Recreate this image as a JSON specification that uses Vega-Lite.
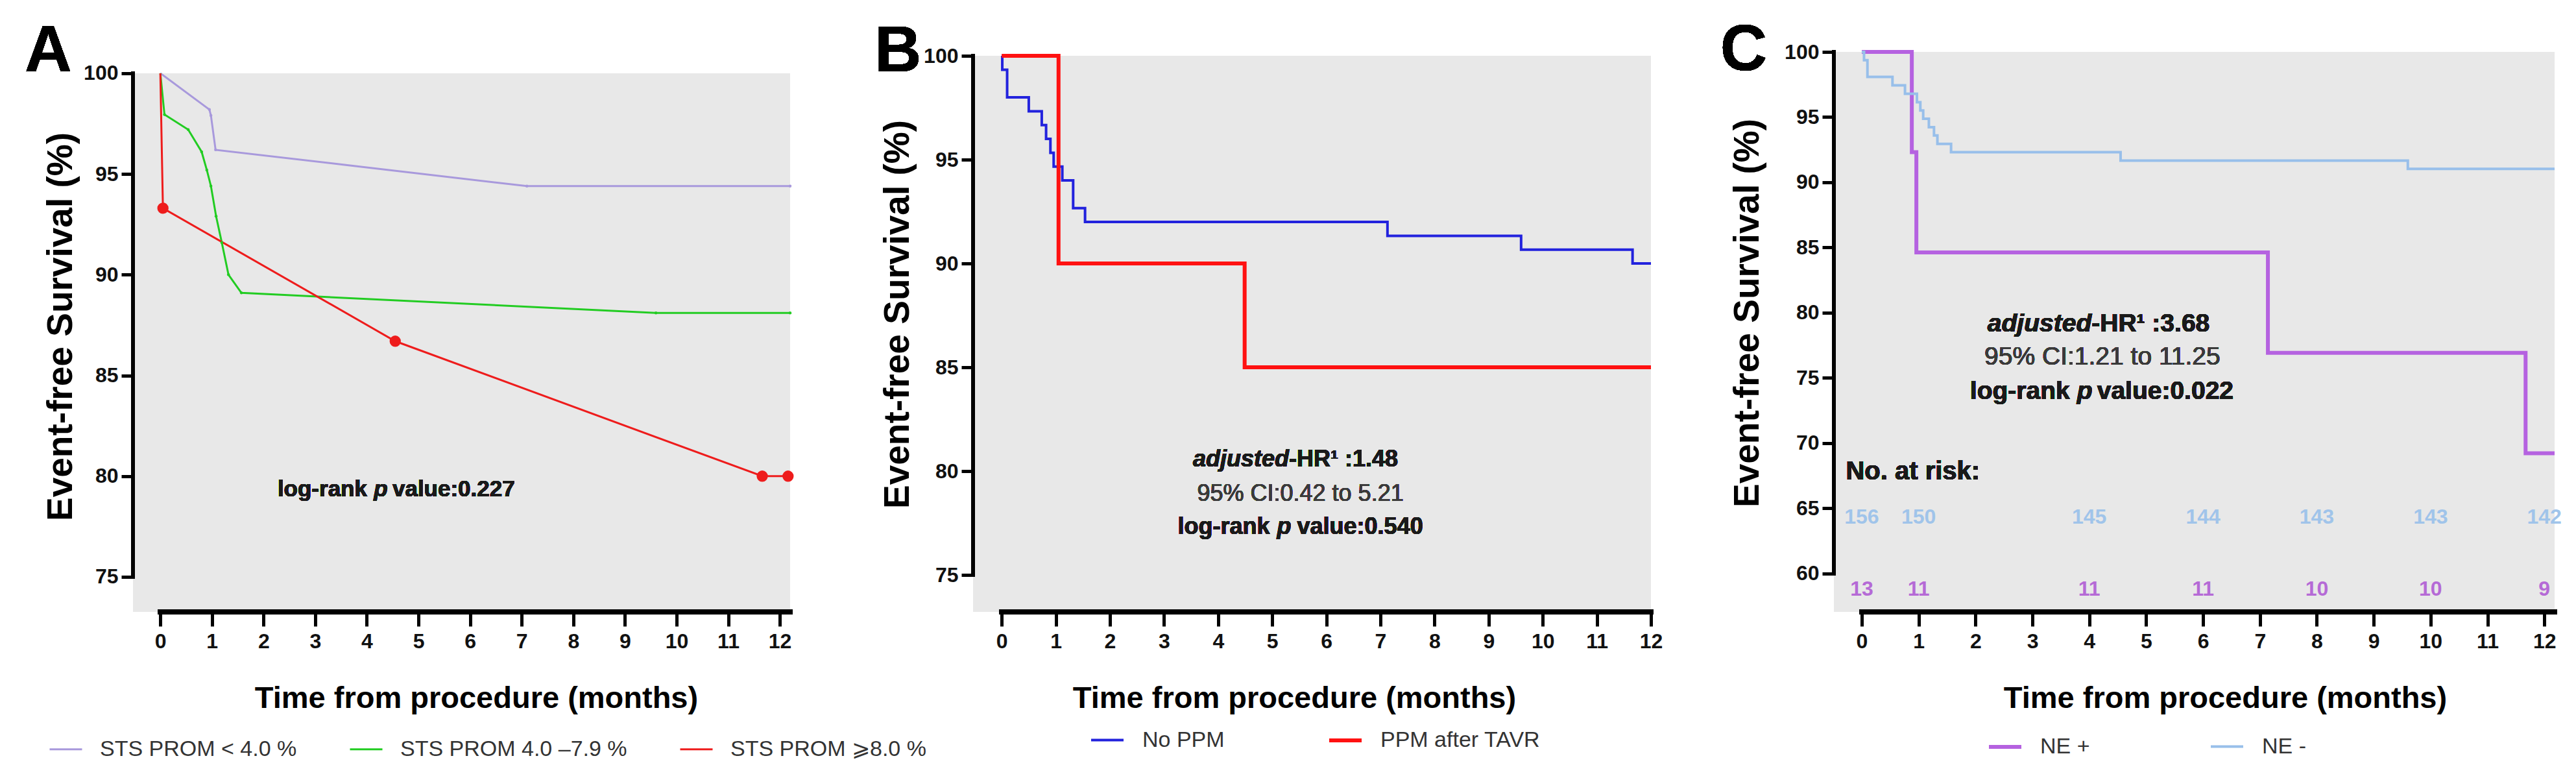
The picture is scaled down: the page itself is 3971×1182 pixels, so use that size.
{
  "$schema": "https://vega.github.io/schema/vega-lite/v6.json",
  "background": "white",
  "padding": {"left": 38, "top": 28, "right": 5, "bottom": 5},
  "spacing": 282,
  "bounds": "flush",
  "config": {
    "view": {"stroke": null, "fill": null},
    "axis": {"domain": false, "grid": false, "tickColor": "#000", "tickWidth": 5, "labelFont": "Liberation Sans, Arial, sans-serif", "labelFontWeight": "bold", "labelColor": "#111", "titleFontWeight": "bold", "titleColor": "#000", "labelOverlap": false, "labelFlush": false, "titleBaseline": "alphabetic", "format": "d"},
    "axisX": {"tickSize": 22, "labelFontSize": 32, "labelPadding": 8, "titleFont": "Liberation Sans, Arial, sans-serif", "titleFontSize": 47, "titleY": 147},
    "axisY": {"tickSize": 18, "labelFontSize": 32, "labelPadding": 5, "titleFont": "Liberation Sans, Arial, sans-serif", "titleFontSize": 55},
    "legend": {"orient": "none", "direction": "horizontal", "symbolType": "stroke", "symbolSize": 2500, "labelFont": "Liberation Sans, Arial, sans-serif", "labelFontSize": 34, "labelColor": "#333", "labelOffset": 26, "labelLimit": 1000},
    "text": {"font": "Liberation Sans, Arial, sans-serif"}
  },
  "hconcat": [
    {
      "width": 1013,
      "height": 863,
      "data": {"values": [
        {"g": "STS PROM < 4.0 %", "t": 0, "s": 100},
        {"g": "STS PROM < 4.0 %", "t": 0.95, "s": 98.2},
        {"g": "STS PROM < 4.0 %", "t": 0.98, "s": 97.9},
        {"g": "STS PROM < 4.0 %", "t": 1.07, "s": 96.2},
        {"g": "STS PROM < 4.0 %", "t": 7.1, "s": 94.4},
        {"g": "STS PROM < 4.0 %", "t": 12.2, "s": 94.4},
        {"g": "STS PROM 4.0 –7.9 %", "t": 0, "s": 100},
        {"g": "STS PROM 4.0 –7.9 %", "t": 0.08, "s": 97.95},
        {"g": "STS PROM 4.0 –7.9 %", "t": 0.54, "s": 97.2},
        {"g": "STS PROM 4.0 –7.9 %", "t": 0.8, "s": 96.1},
        {"g": "STS PROM 4.0 –7.9 %", "t": 0.9, "s": 95.2},
        {"g": "STS PROM 4.0 –7.9 %", "t": 0.98, "s": 94.4},
        {"g": "STS PROM 4.0 –7.9 %", "t": 1.08, "s": 92.9},
        {"g": "STS PROM 4.0 –7.9 %", "t": 1.19, "s": 91.6},
        {"g": "STS PROM 4.0 –7.9 %", "t": 1.32, "s": 90.0},
        {"g": "STS PROM 4.0 –7.9 %", "t": 1.57, "s": 89.1},
        {"g": "STS PROM 4.0 –7.9 %", "t": 9.6, "s": 88.1},
        {"g": "STS PROM 4.0 –7.9 %", "t": 12.2, "s": 88.1},
        {"g": "STS PROM ⩾8.0 %", "t": 0, "s": 100},
        {"g": "STS PROM ⩾8.0 %", "t": 0.05, "s": 93.3},
        {"g": "STS PROM ⩾8.0 %", "t": 4.55, "s": 86.7},
        {"g": "STS PROM ⩾8.0 %", "t": 11.66, "s": 80.0},
        {"g": "STS PROM ⩾8.0 %", "t": 12.16, "s": 80.0}
      ]},
      "layer": [
        {"mark": {"type": "rect", "color": "#e8e8e8"}, "encoding": {"x": {"datum": -0.53}, "x2": {"datum": 12.2}, "y": {"datum": 73.26}, "y2": {"datum": 100}}},
        {"mark": {"type": "rule", "color": "#000", "strokeWidth": 6, "strokeCap": "square"}, "encoding": {"x": {"datum": -0.53}, "y": {"datum": 75}, "y2": {"datum": 100}}},
        {"mark": {"type": "rule", "color": "#000", "strokeWidth": 7, "strokeCap": "square"}, "encoding": {"y": {"datum": 73.26}, "x": {"datum": 0}, "x2": {"datum": 12.2}}},
        {
          "mark": {"type": "line", "interpolate": "linear"},
          "encoding": {
            "x": {"field": "t", "type": "quantitative", "scale": {"domain": [-0.53, 12.2], "nice": false, "zero": false}, "axis": {"values": [0,1,2,3,4,5,6,7,8,9,10,11,12], "title": "Time from procedure (months)", "titleX": 529}},
            "y": {"field": "s", "type": "quantitative", "scale": {"domain": [73.26, 101.06], "nice": false, "zero": false}, "axis": {"values": [75,80,85,90,95,100], "title": "Event-free Survival (%)", "titleX": -95, "titleY": 423}},
            "color": {"field": "g", "type": "nominal", "scale": {"domain": ["STS PROM < 4.0 %", "STS PROM 4.0 –7.9 %", "STS PROM ⩾8.0 %"], "range": ["#a899dc", "#22cc22", "#ee1c1c"]}, "legend": {"title": null, "legendX": -130, "legendY": 1048, "columns": 3, "columnPadding": 75}},
            "strokeWidth": {"field": "g", "type": "nominal", "scale": {"domain": ["STS PROM < 4.0 %", "STS PROM 4.0 –7.9 %", "STS PROM ⩾8.0 %"], "range": [3, 3, 4]}, "legend": {"title": null, "legendX": -130, "legendY": 1048, "columns": 3, "columnPadding": 75}}
          }
        },
        {"transform": [{"filter": "datum.g === 'STS PROM < 4.0 %' && datum.t > 0"}], "mark": {"type": "point", "filled": true, "size": 20, "color": "#a899dc", "opacity": 1}, "encoding": {"x": {"field": "t", "type": "quantitative"}, "y": {"field": "s", "type": "quantitative"}}},
        {"transform": [{"filter": "datum.g === 'STS PROM 4.0 –7.9 %' && datum.t > 0"}], "mark": {"type": "point", "filled": true, "size": 20, "color": "#22cc22", "opacity": 1}, "encoding": {"x": {"field": "t", "type": "quantitative"}, "y": {"field": "s", "type": "quantitative"}}},
        {"transform": [{"filter": "datum.g === 'STS PROM ⩾8.0 %' && datum.t > 0"}], "mark": {"type": "point", "filled": true, "size": 300, "color": "#ee1c1c", "opacity": 1}, "encoding": {"x": {"field": "t", "type": "quantitative"}, "y": {"field": "s", "type": "quantitative"}}},
        {"mark": {"type": "text", "text": "A", "align": "left", "baseline": "alphabetic", "fontWeight": "bold", "fontSize": 100, "color": "#000"}, "encoding": {"x": {"datum": -2.626}, "y": {"datum": 100.09}}},
        {"mark": {"type": "text", "text": "log-rank", "align": "right", "baseline": "middle", "dx": -21, "fontWeight": "bold", "fontSize": 35, "color": "#1a1a1a"}, "encoding": {"x": {"datum": 4.27}, "y": {"datum": 79.35}}},
        {"mark": {"type": "text", "text": "p", "align": "center", "baseline": "middle", "fontWeight": "bold", "fontStyle": "italic", "fontSize": 35, "color": "#1a1a1a"}, "encoding": {"x": {"datum": 4.27}, "y": {"datum": 79.35}}},
        {"mark": {"type": "text", "text": "value:0.227", "align": "left", "baseline": "middle", "dx": 18, "fontWeight": "bold", "fontSize": 35, "color": "#1a1a1a"}, "encoding": {"x": {"datum": 4.27}, "y": {"datum": 79.35}}}
      ]
    },
    {
      "width": 1045,
      "height": 863,
      "data": {"values": [
        {"g": "No PPM", "t": 0, "s": 100},
        {"g": "No PPM", "t": 0.01, "s": 99.33},
        {"g": "No PPM", "t": 0.1, "s": 98.0},
        {"g": "No PPM", "t": 0.5, "s": 97.33},
        {"g": "No PPM", "t": 0.74, "s": 96.67},
        {"g": "No PPM", "t": 0.82, "s": 96.0},
        {"g": "No PPM", "t": 0.9, "s": 95.33},
        {"g": "No PPM", "t": 0.96, "s": 94.67},
        {"g": "No PPM", "t": 1.12, "s": 94.0},
        {"g": "No PPM", "t": 1.32, "s": 92.67},
        {"g": "No PPM", "t": 1.54, "s": 92.0},
        {"g": "No PPM", "t": 7.13, "s": 91.33},
        {"g": "No PPM", "t": 9.6, "s": 90.67},
        {"g": "No PPM", "t": 11.66, "s": 90.0},
        {"g": "No PPM", "t": 12.0, "s": 90.0},
        {"g": "PPM after TAVR", "t": 0, "s": 100},
        {"g": "PPM after TAVR", "t": 1.05, "s": 90},
        {"g": "PPM after TAVR", "t": 4.49, "s": 85},
        {"g": "PPM after TAVR", "t": 12.0, "s": 85}
      ]},
      "layer": [
        {"mark": {"type": "rect", "color": "#e8e8e8"}, "encoding": {"x": {"datum": -0.53}, "x2": {"datum": 12.0}, "y": {"datum": 73.22}, "y2": {"datum": 100}}},
        {"mark": {"type": "rule", "color": "#000", "strokeWidth": 6, "strokeCap": "square"}, "encoding": {"x": {"datum": -0.53}, "y": {"datum": 75}, "y2": {"datum": 100}}},
        {"mark": {"type": "rule", "color": "#000", "strokeWidth": 7, "strokeCap": "square"}, "encoding": {"y": {"datum": 73.22}, "x": {"datum": 0}, "x2": {"datum": 12.0}}},
        {
          "mark": {"type": "line", "interpolate": "step-after"},
          "encoding": {
            "x": {"field": "t", "type": "quantitative", "scale": {"domain": [-0.53, 12.0], "nice": false, "zero": false}, "axis": {"values": [0,1,2,3,4,5,6,7,8,9,10,11,12], "title": "Time from procedure (months)", "titleX": 495}},
            "y": {"field": "s", "type": "quantitative", "scale": {"domain": [73.22, 100.19], "nice": false, "zero": false}, "axis": {"values": [75,80,85,90,95,100], "title": "Event-free Survival (%)", "titleX": -100, "titleY": 404}},
            "color": {"field": "g", "type": "nominal", "scale": {"domain": ["No PPM", "PPM after TAVR"], "range": ["#2222dd", "#ff1111"]}, "legend": {"title": null, "legendX": 179, "legendY": 1033, "columns": 2, "columnPadding": 149}},
            "strokeWidth": {"field": "g", "type": "nominal", "scale": {"domain": ["No PPM", "PPM after TAVR"], "range": [4, 6]}, "legend": {"title": null, "legendX": 179, "legendY": 1033, "columns": 2, "columnPadding": 149}}
          }
        },
        {"mark": {"type": "text", "text": "B", "align": "left", "baseline": "alphabetic", "fontWeight": "bold", "fontSize": 100, "color": "#000"}, "encoding": {"x": {"datum": -2.35}, "y": {"datum": 99.25}}},
        {"mark": {"type": "text", "text": "adjusted", "align": "right", "baseline": "middle", "fontWeight": "bold", "fontStyle": "italic", "fontSize": 36, "color": "#1a1a1a"}, "encoding": {"x": {"datum": 5.31}, "y": {"datum": 80.56}}},
        {"mark": {"type": "text", "text": "-HR¹ :1.48", "align": "left", "baseline": "middle", "fontWeight": "bold", "fontSize": 36, "color": "#1a1a1a"}, "encoding": {"x": {"datum": 5.31}, "y": {"datum": 80.56}}},
        {"mark": {"type": "text", "text": "95% CI:0.42 to 5.21", "align": "center", "baseline": "middle", "fontSize": 36, "color": "#3a3a3a"}, "encoding": {"x": {"datum": 5.52}, "y": {"datum": 78.9}}},
        {"mark": {"type": "text", "text": "log-rank", "align": "right", "baseline": "middle", "dx": -22, "fontWeight": "bold", "fontSize": 36, "color": "#1a1a1a"}, "encoding": {"x": {"datum": 5.22}, "y": {"datum": 77.3}}},
        {"mark": {"type": "text", "text": "p", "align": "center", "baseline": "middle", "fontWeight": "bold", "fontStyle": "italic", "fontSize": 36, "color": "#1a1a1a"}, "encoding": {"x": {"datum": 5.22}, "y": {"datum": 77.3}}},
        {"mark": {"type": "text", "text": "value:0.540", "align": "left", "baseline": "middle", "dx": 20, "fontWeight": "bold", "fontSize": 36, "color": "#1a1a1a"}, "encoding": {"x": {"datum": 5.22}, "y": {"datum": 77.3}}}
      ]
    },
    {
      "width": 1111,
      "height": 863,
      "data": {"values": [
        {"g": "NE +", "t": 0, "s": 100},
        {"g": "NE +", "t": 0.88, "s": 92.31},
        {"g": "NE +", "t": 0.96, "s": 84.62},
        {"g": "NE +", "t": 7.14, "s": 76.92},
        {"g": "NE +", "t": 11.67, "s": 69.23},
        {"g": "NE +", "t": 12.18, "s": 69.23},
        {"g": "NE -", "t": 0, "s": 100},
        {"g": "NE -", "t": 0.04, "s": 99.36},
        {"g": "NE -", "t": 0.1, "s": 98.08},
        {"g": "NE -", "t": 0.54, "s": 97.44},
        {"g": "NE -", "t": 0.76, "s": 96.79},
        {"g": "NE -", "t": 0.97, "s": 96.15},
        {"g": "NE -", "t": 1.03, "s": 95.51},
        {"g": "NE -", "t": 1.08, "s": 94.87},
        {"g": "NE -", "t": 1.18, "s": 94.23},
        {"g": "NE -", "t": 1.27, "s": 93.59},
        {"g": "NE -", "t": 1.33, "s": 92.95},
        {"g": "NE -", "t": 1.57, "s": 92.31},
        {"g": "NE -", "t": 4.55, "s": 91.67},
        {"g": "NE -", "t": 9.6, "s": 91.03},
        {"g": "NE -", "t": 12.18, "s": 91.03}
      ]},
      "layer": [
        {"mark": {"type": "rect", "color": "#e8e8e8"}, "encoding": {"x": {"datum": -0.49}, "x2": {"datum": 12.18}, "y": {"datum": 57.06}, "y2": {"datum": 100}}},
        {"mark": {"type": "rule", "color": "#000", "strokeWidth": 6, "strokeCap": "square"}, "encoding": {"x": {"datum": -0.49}, "y": {"datum": 60}, "y2": {"datum": 100}}},
        {"mark": {"type": "rule", "color": "#000", "strokeWidth": 7, "strokeCap": "square"}, "encoding": {"y": {"datum": 57.06}, "x": {"datum": 0}, "x2": {"datum": 12.18}}},
        {
          "mark": {"type": "line", "interpolate": "step-after"},
          "encoding": {
            "x": {"field": "t", "type": "quantitative", "scale": {"domain": [-0.49, 12.18], "nice": false, "zero": false}, "axis": {"values": [0,1,2,3,4,5,6,7,8,9,10,11,12], "title": "Time from procedure (months)", "titleX": 603}},
            "y": {"field": "s", "type": "quantitative", "scale": {"domain": [57.06, 100.0], "nice": false, "zero": false}, "axis": {"values": [60,65,70,75,80,85,90,95,100], "title": "Event-free Survival (%)", "titleX": -117, "titleY": 402}},
            "color": {"field": "g", "type": "nominal", "scale": {"domain": ["NE +", "NE -"], "range": ["#b562e0", "#98bfea"]}, "legend": {"title": null, "legendX": 236, "legendY": 1043, "columns": 2, "columnPadding": 178}},
            "strokeWidth": {"field": "g", "type": "nominal", "scale": {"domain": ["NE +", "NE -"], "range": [6, 4]}, "legend": {"title": null, "legendX": 236, "legendY": 1043, "columns": 2, "columnPadding": 178}}
          }
        },
        {"mark": {"type": "text", "text": "C", "align": "left", "baseline": "alphabetic", "fontWeight": "bold", "fontSize": 100, "color": "#000"}, "encoding": {"x": {"datum": -2.49}, "y": {"datum": 98.6}}},
        {"mark": {"type": "text", "text": "adjusted", "align": "right", "baseline": "middle", "fontWeight": "bold", "fontStyle": "italic", "fontSize": 39, "color": "#1a1a1a"}, "encoding": {"x": {"datum": 4.04}, "y": {"datum": 79.15}}},
        {"mark": {"type": "text", "text": "-HR¹ :3.68", "align": "left", "baseline": "middle", "fontWeight": "bold", "fontSize": 39, "color": "#1a1a1a"}, "encoding": {"x": {"datum": 4.04}, "y": {"datum": 79.15}}},
        {"mark": {"type": "text", "text": "95% CI:1.21 to 11.25", "align": "center", "baseline": "middle", "fontSize": 39, "color": "#3a3a3a"}, "encoding": {"x": {"datum": 4.23}, "y": {"datum": 76.6}}},
        {"mark": {"type": "text", "text": "log-rank", "align": "right", "baseline": "middle", "dx": -23, "fontWeight": "bold", "fontSize": 39, "color": "#1a1a1a"}, "encoding": {"x": {"datum": 3.92}, "y": {"datum": 73.98}}},
        {"mark": {"type": "text", "text": "p", "align": "center", "baseline": "middle", "fontWeight": "bold", "fontStyle": "italic", "fontSize": 39, "color": "#1a1a1a"}, "encoding": {"x": {"datum": 3.92}, "y": {"datum": 73.98}}},
        {"mark": {"type": "text", "text": "value:0.022", "align": "left", "baseline": "middle", "dx": 19, "fontWeight": "bold", "fontSize": 39, "color": "#1a1a1a"}, "encoding": {"x": {"datum": 3.92}, "y": {"datum": 73.98}}},
        {"mark": {"type": "text", "text": "No. at risk:", "align": "left", "baseline": "middle", "fontWeight": "bold", "fontSize": 40, "color": "#1a1a1a"}, "encoding": {"x": {"datum": -0.28}, "y": {"datum": 67.8}}},
        {
          "data": {"values": [
            {"grp": "NE -", "t": 0, "n": 156}, {"grp": "NE -", "t": 1, "n": 150}, {"grp": "NE -", "t": 4, "n": 145}, {"grp": "NE -", "t": 6, "n": 144}, {"grp": "NE -", "t": 8, "n": 143}, {"grp": "NE -", "t": 10, "n": 143}, {"grp": "NE -", "t": 12, "n": 142},
            {"grp": "NE +", "t": 0, "n": 13}, {"grp": "NE +", "t": 1, "n": 11}, {"grp": "NE +", "t": 4, "n": 11}, {"grp": "NE +", "t": 6, "n": 11}, {"grp": "NE +", "t": 8, "n": 10}, {"grp": "NE +", "t": 10, "n": 10}, {"grp": "NE +", "t": 12, "n": 9}
          ]},
          "layer": [
            {"transform": [{"filter": "datum.grp === 'NE -'"}], "mark": {"type": "text", "align": "center", "baseline": "middle", "fontWeight": "bold", "fontSize": 32, "color": "#a0c4ea"}, "encoding": {"x": {"field": "t", "type": "quantitative"}, "y": {"datum": 64.3}, "text": {"field": "n", "type": "quantitative"}}},
            {"transform": [{"filter": "datum.grp === 'NE +'"}], "mark": {"type": "text", "align": "center", "baseline": "middle", "fontWeight": "bold", "fontSize": 32, "color": "#b56ad6"}, "encoding": {"x": {"field": "t", "type": "quantitative"}, "y": {"datum": 58.8}, "text": {"field": "n", "type": "quantitative"}}}
          ]
        }
      ]
    }
  ],
  "resolve": {"scale": {"x": "independent", "y": "independent", "color": "independent", "strokeWidth": "independent"}, "legend": {"color": "independent", "strokeWidth": "independent"}}
}
